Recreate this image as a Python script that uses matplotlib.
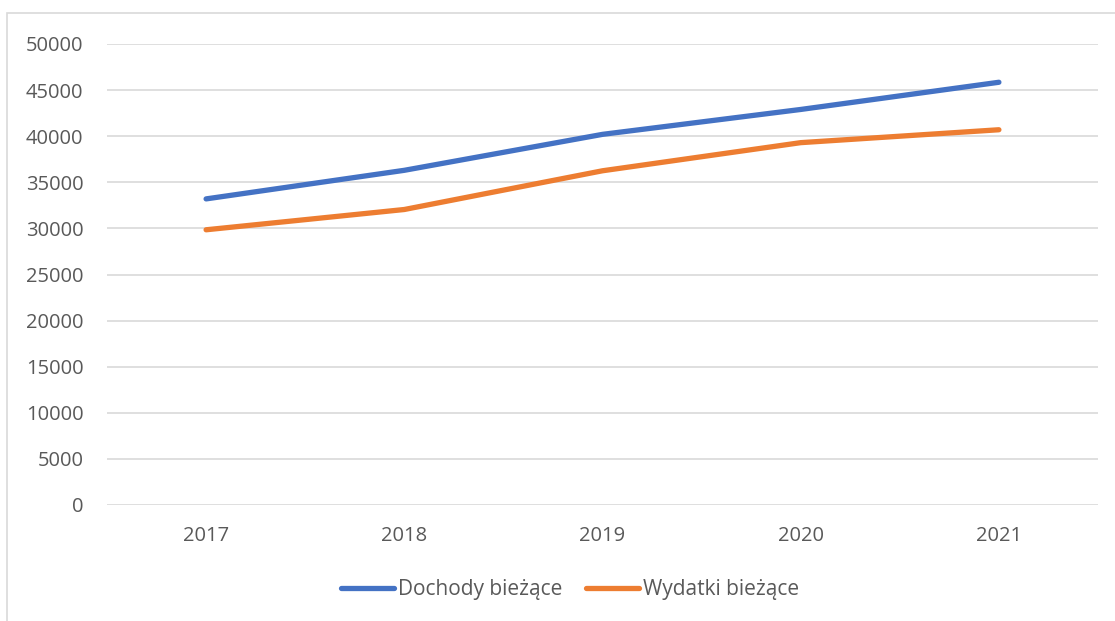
import matplotlib
matplotlib.use("Agg")
import matplotlib.pyplot as plt
from matplotlib.patches import Rectangle

years = ["2017", "2018", "2019", "2020", "2021"]
dochody = [33200, 36300, 40200, 42900, 45850]
wydatki = [29850, 32050, 36250, 39300, 40700]
yticks = [0, 5000, 10000, 15000, 20000, 25000, 30000, 35000, 40000, 45000, 50000]

W, H = 1115, 621
fig = plt.figure(figsize=(W / 100, H / 100), dpi=100)
plt.rcParams['font.family'] = ['Open Sans', 'DejaVu Sans']

# outer chart border
fig.patches.append(Rectangle((7 / W, 0 - 0.01), 1.2, (H - 13) / H + 0.01,
                             transform=fig.transFigure, fill=False,
                             edgecolor="#d9d9d9", linewidth=1.2))

ax = fig.add_axes([107 / W, 1 - 505 / H, (1098 - 107) / W, (505 - 44) / H])
x = list(range(len(years)))
ax.plot(x, dochody, color="#4472C4", lw=3.8, solid_capstyle="round",
        solid_joinstyle="round", label="Dochody bieżące")
ax.plot(x, wydatki, color="#ED7D31", lw=3.8, solid_capstyle="round",
        solid_joinstyle="round", label="Wydatki bieżące")

ax.set_xlim(-0.5, len(years) - 0.5)
ax.set_ylim(0, 50000)
ax.set_yticks(yticks)
ax.set_yticklabels([str(v) for v in yticks])
ax.set_xticks(x)
ax.set_xticklabels(years)
ax.grid(axis="y", color="#d9d9d9", linewidth=1.2)
ax.set_axisbelow(True)
for s in ax.spines.values():
    s.set_visible(False)
ax.tick_params(axis="y", length=0, pad=17, labelsize=14.5, labelcolor="#595959")
ax.tick_params(axis="x", length=0, pad=15, labelsize=14.5, labelcolor="#595959")

leg = ax.legend(loc="center", bbox_to_anchor=((570 - 107) / (1098 - 107), (505 - 590) / (505 - 44)),
                ncol=2, frameon=False, fontsize=15, handlelength=2.55,
                handletextpad=0.2, columnspacing=1.1, labelcolor="#595959")

fig.savefig("out.png", dpi=100)
